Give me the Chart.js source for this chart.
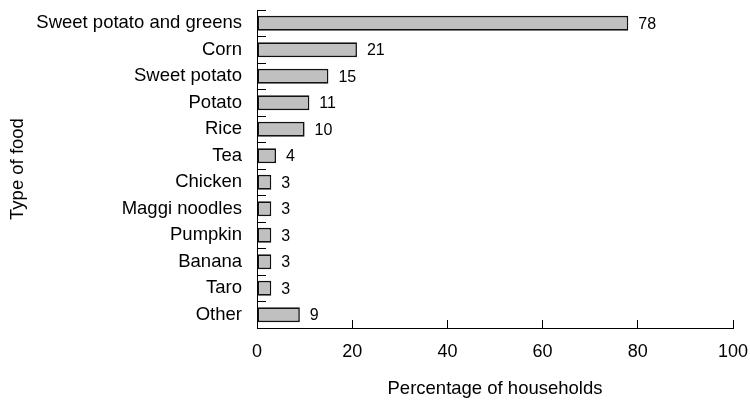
<!DOCTYPE html>
<html>
<head>
<meta charset="utf-8">
<script src="https://cdn.jsdelivr.net/npm/chart.js@4"></script>
<style>
  html, body { margin: 0; padding: 0; background: #fff; }
  #wrap { width: 750px; height: 401px; }
</style>
</head>
<body>
<div id="wrap"><canvas id="myChart" width="750" height="401"></canvas></div>
<script>
const foods = [
  "Sweet potato and greens", "Corn", "Sweet potato", "Potato", "Rice", "Tea",
  "Chicken", "Maggi noodles", "Pumpkin", "Banana", "Taro", "Other"
];
const households = [78, 21, 15, 11, 10, 4, 3, 3, 3, 3, 3, 9];
const xTicks = [0, 20, 40, 60, 80, 100];

const FONT = "'Liberation Sans', Arial, Helvetica, sans-serif";

// value labels just right of each bar
const valueLabels = {
  id: "valueLabels",
  afterDatasetsDraw(chart) {
    const ctx = chart.ctx;
    const meta = chart.getDatasetMeta(0);
    ctx.save();
    ctx.fillStyle = "#000";
    ctx.font = "16px " + FONT;
    ctx.textAlign = "left";
    ctx.textBaseline = "middle";
    meta.data.forEach((bar, i) => {
      ctx.fillText(String(households[i]), bar.x + 10, bar.y + 1);
    });
    ctx.restore();
  }
};

new Chart(document.getElementById("myChart"), {
  type: "bar",
  data: {
    labels: foods,
    datasets: [{
      data: households,
      backgroundColor: "#c0c0c0",
      borderColor: "#111",
      borderWidth: 1.6,
      borderSkipped: false,
      categoryPercentage: 1,
      barPercentage: 0.56
    }]
  },
  options: {
    indexAxis: "y",
    responsive: false,
    animation: false,
    layout: { padding: { left: 0, top: 10, right: 17, bottom: 0 } },
    plugins: {
      legend: { display: false },
      tooltip: { enabled: false }
    },
    scales: {
      x: {
        min: 0,
        max: 100,
        afterBuildTicks(scale) {
          scale.ticks = xTicks.map((v) => ({ value: v }));
        },
        afterFit(scale) {
          scale.height = 73;
          scale.paddingLeft = 0;
          scale.paddingRight = 0;
        },
        grid: {
          drawOnChartArea: false,
          drawTicks: true,
          tickLength: -8,
          color: "#000",
          lineWidth: 1
        },
        border: { color: "#000", width: 1 },
        ticks: {
          color: "#000",
          font: { family: FONT, size: 18 },
          padding: 21,
          maxRotation: 0
        },
        title: {
          display: true,
          text: "Percentage of households",
          color: "#000",
          font: { family: FONT, size: 18.5 },
          padding: { top: 0, bottom: 1 }
        }
      },
      y: {
        afterFit(scale) {
          scale.width = 257;
          scale.paddingTop = 0;
          scale.paddingBottom = 0;
        },
        grid: {
          drawOnChartArea: false,
          drawTicks: true,
          tickLength: -9,
          offset: true,
          color: "#000",
          lineWidth: 1
        },
        border: { color: "#000", width: 1 },
        ticks: {
          color: "#000",
          font: { family: FONT, size: 18.5 },
          padding: 24,
          autoSkip: false
        },
        title: {
          display: true,
          text: "Type of food",
          color: "#000",
          font: { family: FONT, size: 18.5 },
          padding: { top: 7, bottom: 0 }
        }
      }
    }
  },
  plugins: [valueLabels]
});
</script>
</body>
</html>
